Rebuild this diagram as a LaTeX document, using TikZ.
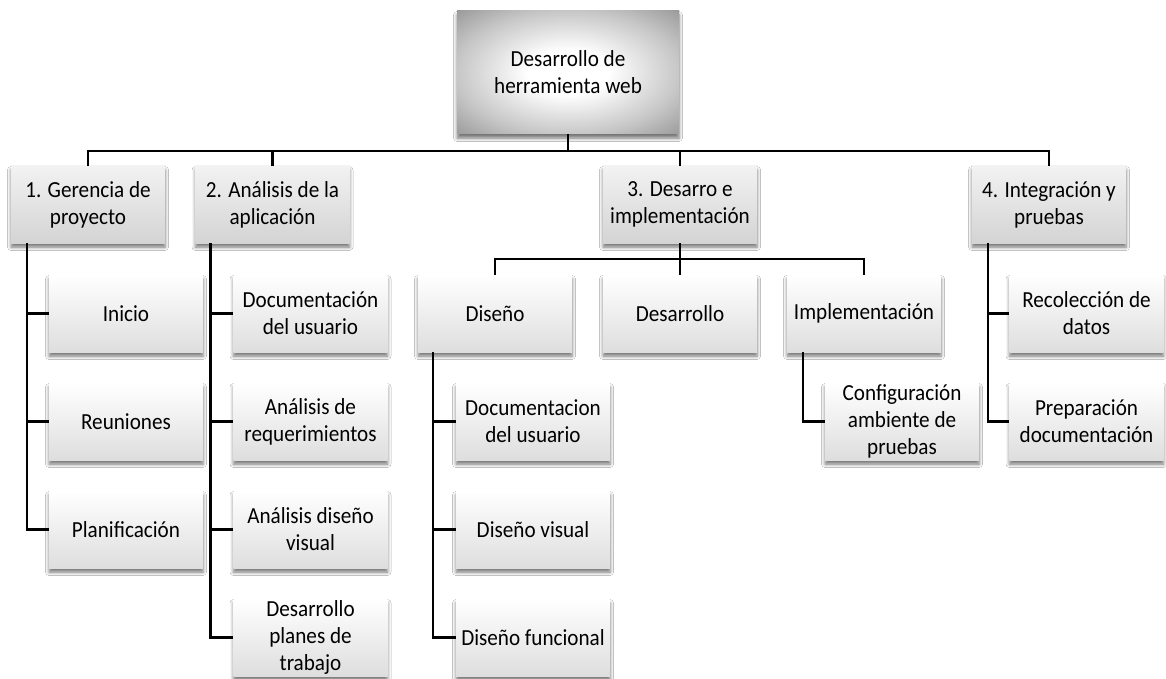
\documentclass[tikz,border=0pt]{standalone}
\usepackage{fontspec}
\setmainfont{Carlito}[FakeStretch=0.92]
\usetikzlibrary{shadows.blur,calc}
% soft glow for the root box: white centre fading to grey corners
\pgfdeclareradialshading{topglow}{\pgfpoint{0bp}{0bp}}{color(0bp)=(white); color(9bp)=(white); color(25bp)=(black!22); color(36bp)=(black!40); color(50bp)=(black!40)}
\begin{document}
\begin{tikzpicture}[x=1pt,y=-1pt,
  every node/.style={font=\fontsize{23}{27}\selectfont, align=center, inner sep=0pt},
  boxbase/.style={minimum width=154pt, minimum height=77pt,
    blur shadow={shadow xshift=0pt, shadow yshift=-4pt, shadow blur radius=3.5pt, shadow opacity=55}},
  rootbox/.style={boxbase, minimum width=222pt, minimum height=123pt, shade, shading=topglow},
  phasebox/.style={boxbase, top color=black!5, bottom color=black!17},
  taskbox/.style={boxbase, top color=white, middle color=white, bottom color=black!13},
  link/.style={line width=2.4pt}
]
\path[fill=white, use as bounding box] (0,0) rectangle (1166,679);

% root
\node[rootbox] (root) at (568,72.5) {Desarrollo de\\herramienta web};

% phases
\node[phasebox] (p1) at (88,204.5)   {1. Gerencia de\\proyecto};
\node[phasebox] (p2) at (272.5,204.5){2. Análisis de la\\aplicación};
\node[phasebox] (p3) at (680,204.5)  {3. Desarro e\\implementación};
\node[phasebox] (p4) at (1049,204.5) {4. Integración y\\pruebas};

% 1. project management
\node[taskbox] (a1) at (126,313.5) {Inicio};
\node[taskbox] (a2) at (126,421.5) {Reuniones};
\node[taskbox] (a3) at (126,529.5) {Planificación};

% 2. analysis
\node[taskbox] (b1) at (310.5,313.5) {Documentación\\del usuario};
\node[taskbox] (b2) at (310.5,421.5) {Análisis de\\requerimientos};
\node[taskbox] (b3) at (310.5,529.5) {Análisis diseño\\visual};
\node[taskbox] (b4) at (310.5,637.5) {Desarrollo\\planes de\\trabajo};

% 3. development
\node[taskbox] (s1) at (495,313.5) {Diseño};
\node[taskbox] (s2) at (680,313.5) {Desarrollo};
\node[taskbox] (s3) at (864,313.5) {Implementación};
\node[taskbox] (c1) at (533,421.5) {Documentacion\\del usuario};
\node[taskbox] (c2) at (533,529.5) {Diseño visual};
\node[taskbox] (c3) at (533,637.5) {Diseño funcional};
\node[taskbox] (e1) at (902,421.5) {Configuración\\ambiente de\\pruebas};

% 4. integration
\node[taskbox] (f1) at (1086.5,313.5) {Recolección de\\datos};
\node[taskbox] (f2) at (1086.5,421.5) {Preparación\\documentación};

% connectors
\foreach \p in {p1,p2,p3,p4}
  \draw[link] (\p.north) -- ++(0,-15) -| (root.south);
\foreach \s in {s1,s2,s3}
  \draw[link] (\s.north) -- ++(0,-16) -| (p3.south);
\foreach \c in {a1,a2,a3}
  \draw[link] ($(p1.south west)+(16,0)$) |- (\c.west);
\foreach \c in {b1,b2,b3,b4}
  \draw[link] ($(p2.south west)+(15,0)$) |- (\c.west);
\foreach \c in {c1,c2,c3}
  \draw[link] ($(s1.south west)+(15,0)$) |- (\c.west);
\draw[link] ($(s3.south west)+(16,0)$) |- (e1.west);
\foreach \c in {f1,f2}
  \draw[link] ($(p4.south west)+(16,0)$) |- (\c.west);
\end{tikzpicture}
\end{document}
